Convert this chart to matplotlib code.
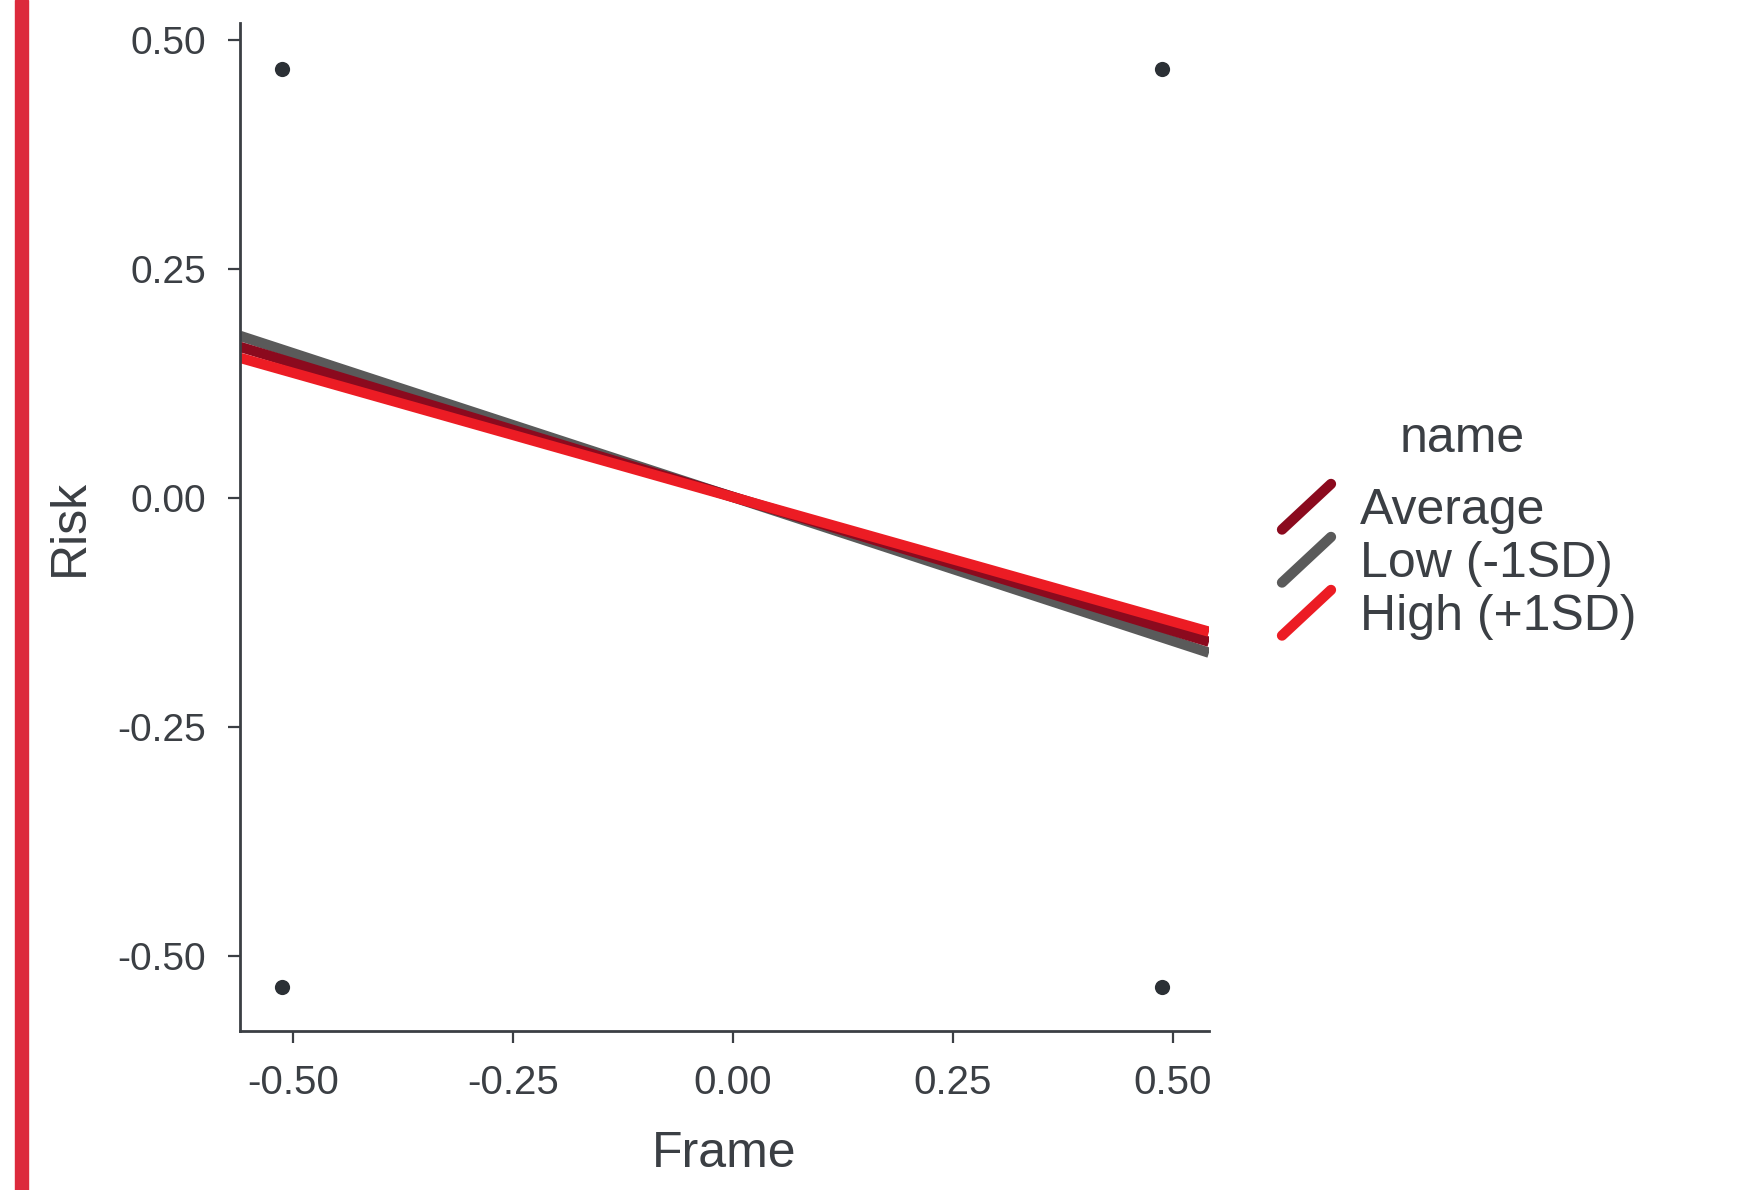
import matplotlib
matplotlib.use('Agg')
import matplotlib.pyplot as plt
from matplotlib.lines import Line2D
from matplotlib.patches import Rectangle
from matplotlib.legend_handler import HandlerBase

plt.rcParams['font.family'] = ['Liberation Sans', 'DejaVu Sans']

# datos
frame_ends = [-0.560, 0.541]
risk_average = [0.165, -0.157]
risk_low = [0.177, -0.169]
risk_high = [0.153, -0.146]
nombres = ['Average', 'Low (-1SD)', 'High (+1SD)']

puntos_frame = [-0.512, -0.512, 0.488, 0.488]
puntos_risk = [0.468, -0.534, 0.468, -0.534]

colores = {'Average': '#8B0A1E', 'Low (-1SD)': '#5A5A5A', 'High (+1SD)': '#EC1C24'}
texto = '#3b3f44'


class LineaDiagonal(HandlerBase):
    # clave de leyenda en diagonal, como en ggplot
    def create_artists(self, legend, orig_handle, xdescent, ydescent,
                       width, height, fontsize, trans):
        x0, x1 = -xdescent, -xdescent + width
        y0, y1 = -ydescent - 0.05 * height, -ydescent + 1.05 * height
        linea = Line2D([x0, x1], [y0, y1], color=orig_handle.get_color(),
                       lw=orig_handle.get_linewidth(), solid_capstyle='round',
                       transform=trans)
        return [linea]


fig = plt.figure(figsize=(17.56, 11.9), dpi=100)

# barra roja del borde izquierdo
fig.patches.append(Rectangle((15 / 1756, 0), 13 / 1756, 1, transform=fig.transFigure,
                             color='#DC2A3C', zorder=0))

ax = fig.add_axes([240 / 1756, 159 / 1190, 969 / 1756, 1008 / 1190])

ax.scatter(puntos_frame, puntos_risk, s=120, color='#2b3035', zorder=3, linewidths=0)

lineas = []
for nombre, valores in [('Low (-1SD)', risk_low), ('Average', risk_average), ('High (+1SD)', risk_high)]:
    l, = ax.plot(frame_ends, valores, color=colores[nombre], lw=7.4, solid_capstyle='butt', zorder=2)
    lineas.append((nombre, l))
por_nombre = dict(lineas)

ax.set_xlim(-0.560, 0.541)
ax.set_ylim(-0.582, 0.5186)
ax.set_xticks([-0.5, -0.25, 0, 0.25, 0.5])
ax.set_yticks([-0.5, -0.25, 0, 0.25, 0.5])
ax.set_xticklabels(['-0.50', '-0.25', '0.00', '0.25', '0.50'])
ax.set_yticklabels(['-0.50', '-0.25', '0.00', '0.25', '0.50'])

for lado in ['top', 'right']:
    ax.spines[lado].set_visible(False)
for lado in ['left', 'bottom']:
    ax.spines[lado].set_color(texto)
    ax.spines[lado].set_linewidth(2.0)

ax.tick_params(axis='both', direction='out', length=8.6, width=1.6, color=texto,
               labelcolor=texto)
ax.tick_params(axis='y', pad=16, labelsize=28)
ax.tick_params(axis='x', pad=15, labelsize=29)

ax.set_xlabel('Frame', fontsize=36, color=texto, va='center')
ax.set_ylabel('Risk', fontsize=36, color=texto, va='center')
ax.xaxis.set_label_coords(0.5, -0.122)
ax.yaxis.set_label_coords(-0.176, 0.5)

# leyenda
fig.text(1462 / 1756, 1 - 439 / 1190, 'name', fontsize=36, color=texto, ha='center', va='center')
leg = fig.legend([por_nombre[n] for n in nombres], nombres, loc='upper left',
                 bbox_to_anchor=(1282 / 1756, 1 - 486 / 1190), frameon=False,
                 fontsize=36, labelcolor=texto, handlelength=0.98, handleheight=0.9,
                 handletextpad=0.58, labelspacing=0.1, borderpad=0, borderaxespad=0,
                 handler_map={Line2D: LineaDiagonal()})

fig.savefig('out.png', dpi=100)
